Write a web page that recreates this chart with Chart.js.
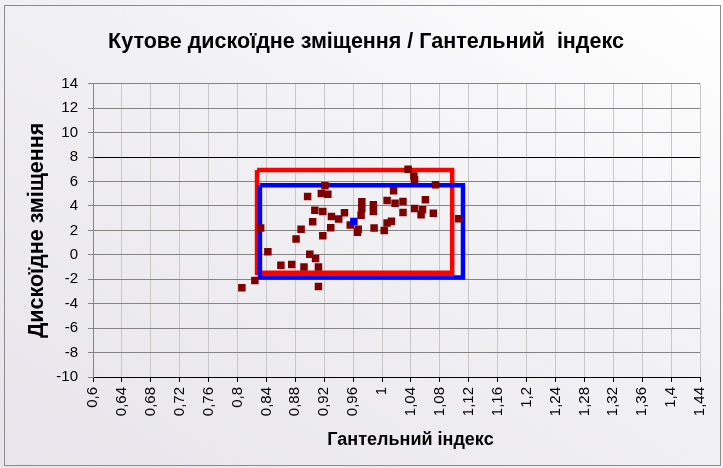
<!DOCTYPE html>
<html>
<head>
<meta charset="utf-8">
<script src="https://cdn.jsdelivr.net/npm/chart.js@4.4.0/dist/chart.umd.min.js"></script>
<style>
  html, body { margin: 0; padding: 0; }
  #wrap { position: relative; width: 723px; height: 468px;
    background: linear-gradient(to bottom left, #ffffff 0%, #f1f0f3 45%, #e7e5eb 100%); }
  #frame { position: absolute; left: 4px; top: 5px; right: 2px; bottom: 2px;
    border: 1px solid #8c8c8c; pointer-events: none; }
  canvas { position: absolute; left: 0; top: 0; }
</style>
</head>
<body>
<div id="wrap">
  <canvas id="chart" width="723" height="468"></canvas>
  <div id="frame"></div>
</div>
<script>
const FONT = "'Liberation Sans', Arial, sans-serif";

// Гантельний індекс (x) / Дискоїдне зміщення (y)
const gantelIndex = [0.806, 0.824, 0.832, 0.842, 0.860, 0.875, 0.892, 0.912, 0.912, 0.908,
    0.900, 0.881, 0.888, 0.904, 0.918, 0.929, 0.907, 0.918, 0.930, 0.940,
    0.948, 0.897, 0.916, 0.925, 0.921, 0.956, 0.967, 0.966, 0.972, 0.972,
    0.971, 0.988, 0.988, 0.989, 1.003, 1.007, 1.013, 1.007, 1.016, 1.018,
    1.036, 1.044, 1.045, 1.074, 1.029, 1.060, 1.029, 1.045, 1.056, 1.054,
    1.071, 1.106];
const diskShift = [-2.7, -2.1, 2.2, 0.25, -0.85, -0.8, -1.0, -2.6, -1.0, -0.3,
    0.05, 1.3, 2.1, 2.7, 1.57, 2.22, 3.65, 3.55, 3.14, 2.93,
    3.45, 4.78, 5.03, 4.96, 5.65, 2.45, 2.1, 1.85, 4.35, 3.8,
    3.25, 4.1, 3.55, 2.19, 2.0, 2.6, 2.75, 4.45, 5.25, 4.23,
    7.0, 6.45, 6.15, 5.73, 4.37, 4.5, 3.47, 3.8, 3.7, 3.28,
    3.41, 2.95];

// середнє значення
const meanIndex = [0.961];
const meanShift = [2.73];

// рамки
const redBoxX = [0.827, 1.097, 1.097, 0.827, 0.827];
const redBoxY = [6.95, 6.95, -1.47, -1.47, 6.95];
const blueBoxX = [0.831, 1.112, 1.112, 0.831, 0.831];
const blueBoxY = [5.7, 5.7, -1.86, -1.86, 5.7];

const xMin = 0.6, xMax = 1.44, xStep = 0.04;
const yMin = -10, yMax = 14, yStep = 2;

function toPoints(xs, ys) {
    return xs.map((x, i) => ({ x: x, y: ys[i] }));
}

function boxDataset(xs, ys, color) {
    return {
        data: toPoints(xs, ys),
        showLine: true,
        borderColor: color,
        borderWidth: 4.5,
        pointRadius: 0,
        tension: 0,
        fill: false,
    };
}

// x-axis title, a bit right of centre like in the Excel original
const xTitlePlugin = {
    id: "xTitle",
    afterDraw(chart, args, opts) {
        const { ctx, chartArea } = chart;
        ctx.save();
        ctx.font = "bold 18px " + FONT;
        ctx.fillStyle = "#000";
        ctx.textAlign = "center";
        ctx.textBaseline = "middle";
        ctx.fillText(opts.text, (chartArea.left + chartArea.right) / 2 + opts.shift, chartArea.bottom + opts.offset);
        ctx.restore();
    },
};

new Chart(document.getElementById("chart"), {
    type: "scatter",
    data: {
        datasets: [
            {
                data: toPoints(meanIndex, meanShift),
                pointStyle: "rect",
                pointRadius: 5.3,
                backgroundColor: "#0000ff",
                borderWidth: 0,
            },
            {
                data: toPoints(gantelIndex, diskShift),
                pointStyle: "rect",
                pointRadius: 5.3,
                backgroundColor: "#7f0000",
                borderWidth: 0,
            },
            boxDataset(blueBoxX, blueBoxY, "#0000ff"),
            boxDataset(redBoxX, redBoxY, "#ff0000"),
        ],
    },
    plugins: [xTitlePlugin],
    options: {
        responsive: false,
        animation: false,
        layout: { padding: { left: 28, right: 19, top: 0, bottom: 0 } },
        plugins: {
            legend: { display: false },
            tooltip: { enabled: false },
            title: {
                display: true,
                text: "Кутове дискоїдне зміщення / Гантельний  індекс",
                color: "#000",
                font: { family: FONT, size: 21.5, weight: "bold" },
                padding: { top: 29, bottom: 29 },
            },
            xTitle: { text: "Гантельний індекс", shift: 14, offset: 63 },
        },
        scales: {
            x: {
                type: "linear",
                min: xMin,
                max: xMax,
                afterFit: (scale) => { scale.height = 91; },
                ticks: {
                    stepSize: xStep,
                    autoSkip: false,
                    maxRotation: 90,
                    minRotation: 90,
                    padding: 5,
                    color: "#000",
                    font: { family: FONT, size: 15 },
                    callback: (v) => String(Math.round(v * 100) / 100).replace(".", ","),
                },
                grid: {
                    color: "#c8c8c8",
                    tickColor: "#000",
                    tickLength: 5,
                },
                border: { color: "#000", width: 1 },
            },
            y: {
                min: yMin,
                max: yMax,
                afterFit: (scale) => { scale.width = 65; },
                ticks: {
                    stepSize: yStep,
                    padding: 10,
                    color: "#000",
                    font: { family: FONT, size: 15 },
                },
                grid: {
                    color: (ctx) => (ctx.tick && (ctx.tick.value === 8 || ctx.tick.value === yMin)) ? "#000" : "#858585",
                    tickColor: "#858585",
                    tickLength: 5,
                },
                border: { color: "#858585", width: 1 },
                title: {
                    display: true,
                    text: "Дискоїдне зміщення",
                    color: "#000",
                    font: { family: FONT, size: 21.5, weight: "bold" },
                    padding: { top: -4, bottom: 0 },
                },
            },
        },
    },
});
</script>
</body>
</html>
